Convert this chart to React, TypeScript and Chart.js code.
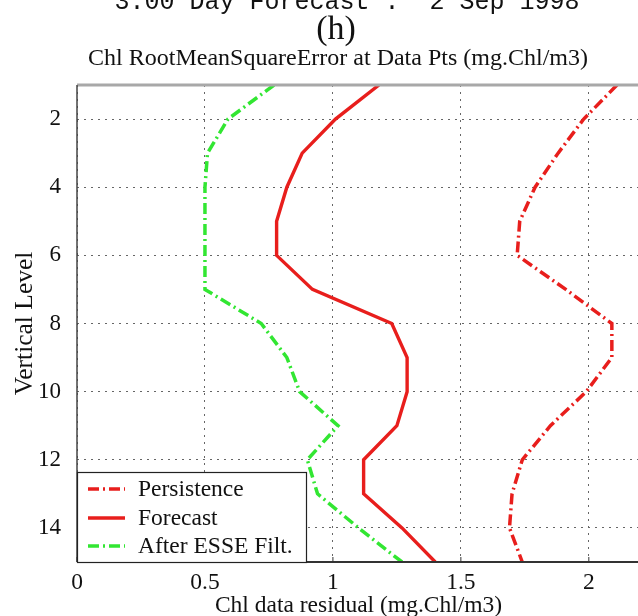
import React, { useEffect, useRef } from "react";
import { Chart, registerables } from "chart.js";

Chart.register(...registerables);

const levels = [1, 2, 3, 4, 5, 6, 7, 8, 9, 10, 11, 12, 13, 14, 15];
const persistence = [2.11, 1.98, 1.88, 1.79, 1.73, 1.72, 1.91, 2.09, 2.09, 1.99, 1.85, 1.74, 1.70, 1.69, 1.74];
const forecast = [1.18, 1.01, 0.88, 0.82, 0.78, 0.78, 0.92, 1.23, 1.29, 1.29, 1.25, 1.12, 1.12, 1.27, 1.40];
const esse = [0.77, 0.59, 0.51, 0.50, 0.50, 0.50, 0.50, 0.72, 0.82, 0.87, 1.02, 0.90, 0.94, 1.10, 1.27];
const yTicks = [2, 4, 6, 8, 10, 12, 14];
const xTicks = [0, 0.5, 1, 1.5, 2];
const seriesNames = ["Persistence", "Forecast", "After ESSE Filt."];
const titleLine1 = "3.00 Day Forecast :  2 Sep 1998";
const titleLine2 = "(h)";
const titleLine3 = "Chl RootMeanSquareError at Data Pts (mg.Chl/m3)";
const xTitle = "Chl data residual (mg.Chl/m3)";
const yTitle = "Vertical Level";

const RED = "rgb(232,30,28)";
const GREEN = "rgb(50,230,50)";
const DASHDOT = [11, 4, 2, 4];
const SERIF = "'Liberation Serif', 'DejaVu Serif', serif";

const styles = [
  { color: RED, dash: DASHDOT, width: 3.5 },
  { color: RED, dash: [] as number[], width: 3.4 },
  { color: GREEN, dash: DASHDOT, width: 3.5 },
];

const toPts = (vals: number[]) => vals.map((v, i) => ({ x: v, y: levels[i] }));

const decorPlugin = {
  id: "decor",
  afterDatasetsDraw(chart: any) {
    const ctx = chart.ctx;
    const a = chart.chartArea;
    ctx.save();
    ctx.strokeStyle = "#a8a8a8";
    ctx.lineWidth = 3;
    ctx.beginPath();
    ctx.moveTo(a.left, a.top);
    ctx.lineTo(a.right, a.top);
    ctx.stroke();
    ctx.strokeStyle = "#444";
    ctx.lineWidth = 1.5;
    ctx.beginPath();
    ctx.moveTo(a.left, a.top);
    ctx.lineTo(a.left, a.bottom);
    ctx.stroke();
    ctx.strokeStyle = "#333";
    ctx.lineWidth = 2;
    ctx.beginPath();
    ctx.moveTo(a.left, a.bottom);
    ctx.lineTo(a.right, a.bottom);
    ctx.stroke();
    const xs = chart.scales.x;
    ctx.lineWidth = 1;
    xTicks.forEach((t) => {
      const px = xs.getPixelForValue(t);
      ctx.beginPath();
      ctx.moveTo(px, a.bottom);
      ctx.lineTo(px, a.bottom - 5);
      ctx.stroke();
    });

    const bx = a.left, by = 472, bw = 229, bh = a.bottom - 472;
    ctx.fillStyle = "#fff";
    ctx.fillRect(bx, by, bw, bh);
    ctx.strokeStyle = "#222";
    ctx.lineWidth = 1.2;
    ctx.strokeRect(bx + 0.5, by + 0.5, bw, bh);
    const rows = [489, 518, 546];
    seriesNames.forEach((name, i) => {
      const st = styles[i];
      ctx.strokeStyle = st.color;
      ctx.lineWidth = st.width;
      ctx.setLineDash(st.dash);
      ctx.beginPath();
      ctx.moveTo(88, rows[i]);
      ctx.lineTo(125, rows[i]);
      ctx.stroke();
      ctx.setLineDash([]);
      ctx.fillStyle = "#111";
      ctx.font = `23.5px ${SERIF}`;
      ctx.textAlign = "left";
      ctx.textBaseline = "middle";
      ctx.fillText(name, 138, rows[i] + 1);
    });
    ctx.restore();
  },
  afterDraw(chart: any) {
    const ctx = chart.ctx;
    ctx.save();
    ctx.fillStyle = "#111";
    ctx.textAlign = "center";
    ctx.textBaseline = "alphabetic";
    ctx.font = `25px 'Liberation Mono', 'DejaVu Sans Mono', monospace`;
    ctx.fillText(titleLine1, 347, 9);
    ctx.font = `34px ${SERIF}`;
    ctx.fillText(titleLine2, 336, 39);
    ctx.font = `24px ${SERIF}`;
    ctx.fillText(titleLine3, 338, 65);
    ctx.restore();
  },
};

export default function App() {
  const ref = useRef<HTMLCanvasElement | null>(null);
  useEffect(() => {
    if (!ref.current) return;
    const chart = new Chart(ref.current, {
      type: "scatter",
      data: {
        datasets: [persistence, forecast, esse].map((vals, i) => ({
          label: seriesNames[i],
          data: toPts(vals),
          showLine: true,
          borderColor: styles[i].color,
          backgroundColor: styles[i].color,
          borderWidth: styles[i].width,
          borderDash: styles[i].dash,
          pointRadius: 0,
          tension: 0,
        })),
      },
      options: {
        responsive: false,
        animation: false,
        devicePixelRatio: 1,
        layout: { padding: { top: 85, right: 5, left: 0, bottom: 0 } },
        plugins: { legend: { display: false }, tooltip: { enabled: false } },
        scales: {
          x: {
            type: "linear",
            min: 0,
            max: 2.2,
            afterBuildTicks: (s: any) => {
              s.ticks = xTicks.map((v) => ({ value: v }));
            },
            afterFit: (s: any) => {
              s.height = 54;
            },
            ticks: {
              font: { family: SERIF, size: 23.5 },
              color: "#111",
              padding: 7,
              maxRotation: 0,
              callback: (v: any) => String(v),
            },
            grid: { color: "#666", lineWidth: 1, drawTicks: false, borderDash: [2, 5] } as any,
            border: { display: false, dash: [2, 5] },
            title: {
              display: true,
              text: xTitle,
              font: { family: SERIF, size: 23.5 },
              color: "#111",
              padding: { top: 0, bottom: -4 },
            },
          },
          y: {
            type: "linear",
            reverse: true,
            min: 1,
            max: 15,
            afterBuildTicks: (s: any) => {
              s.ticks = yTicks.map((v) => ({ value: v }));
            },
            afterFit: (s: any) => {
              s.width = 77;
            },
            ticks: {
              font: { family: SERIF, size: 23 },
              color: "#111",
              padding: 16,
              callback: (v: any) => String(v),
            },
            grid: { color: "#666", lineWidth: 1, drawTicks: false, borderDash: [2, 5] } as any,
            border: { display: false, dash: [2, 5] },
            title: {
              display: true,
              text: yTitle,
              font: { family: SERIF, size: 25.5 },
              color: "#111",
              padding: { top: 10, bottom: 0 },
            },
          },
        },
      },
      plugins: [decorPlugin],
    } as any);
    return () => chart.destroy();
  }, []);
  return (
    <div
      style={{
        position: "fixed",
        left: 0,
        top: 0,
        width: 638,
        height: 616,
        overflow: "hidden",
        background: "#fff",
      }}
    >
      <canvas ref={ref} width={645} height={616} style={{ width: 645, height: 616, display: "block" }} />
    </div>
  );
}
